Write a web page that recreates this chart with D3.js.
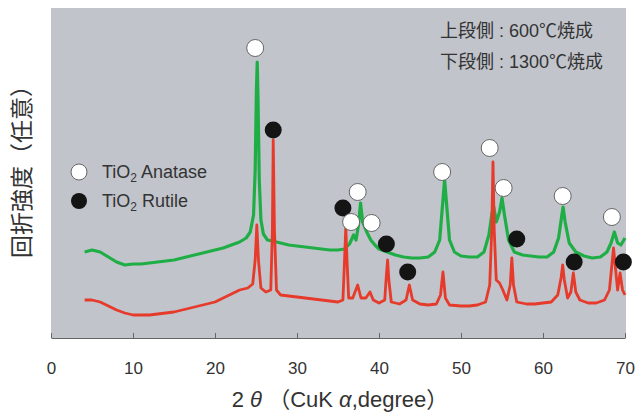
<!DOCTYPE html>
<html>
<head>
<meta charset="utf-8">
<script src="https://cdn.jsdelivr.net/npm/d3@7"></script>
<style>
  body { margin: 0; background: #fff; }
  text { font-family: "Liberation Sans", "Noto Sans CJK JP", sans-serif; fill: #333; }
</style>
</head>
<body>
<div id="chart"></div>
<script>
// 2theta (deg) and intensity (arbitrary)
var upperX = [4.1, 5, 6, 7, 8, 9, 10, 11, 12, 13, 14, 15, 16, 17, 18, 19, 20, 21, 22, 23, 23.8, 24.3, 24.7, 24.9, 25.05, 25.15, 25.25, 25.4, 25.6, 25.9, 26.4, 27, 28, 29, 30, 31, 32, 33, 34, 35, 35.8, 36.4, 36.9, 37.2, 37.5, 37.75, 38.0, 38.5, 39, 39.5, 40, 41, 42, 43, 44, 45, 46, 46.8, 47.4, 47.8, 48.0, 48.2, 48.6, 49.2, 50, 51, 52, 52.8, 53.4, 53.8, 54.0, 54.3, 54.7, 55.0, 55.3, 55.8, 56.5, 57.5, 58.5, 59.5, 60.5, 61.3, 61.9, 62.3, 62.45, 62.7, 63.2, 64, 65, 66, 67, 67.8, 68.3, 68.7, 69.1, 69.5, 70];
var upperY = [86, 88, 86, 81, 76, 73, 74, 74, 75, 76, 77, 78, 80, 82, 84, 86, 88, 90, 93, 96, 100, 106, 123, 168, 248, 276, 238, 158, 118, 104, 98, 97, 95, 93, 92, 91, 90, 89, 88, 88, 89, 94, 103, 98, 113, 135, 116, 106, 98, 93, 89, 86, 83, 81, 80, 80, 81, 86, 98, 138, 158, 138, 98, 86, 82, 81, 81, 86, 103, 126, 131, 116, 126, 140, 123, 98, 86, 83, 82, 81, 81, 86, 100, 123, 131, 116, 95, 86, 82, 80, 81, 86, 95, 106, 95, 93, 100];

var lowerX = [4.1, 5, 6, 7, 8, 9, 10, 11, 12, 13, 14, 15, 16, 17, 18, 19, 20, 21, 22, 23, 24, 24.6, 24.9, 25.1, 25.3, 25.6, 26.2, 26.8, 27.0, 27.1, 27.25, 27.5, 28, 29, 30, 31, 32, 33, 34, 35, 35.6, 35.8, 35.95, 36.1, 36.3, 36.8, 37.4, 37.8, 38.4, 38.9, 39.3, 40, 40.7, 40.9, 41.05, 41.2, 41.5, 42.5, 43.3, 43.7, 44.1, 45, 46, 47, 47.5, 47.8, 48.1, 48.6, 50, 51, 52, 53, 53.5, 53.75, 53.9, 54.05, 54.3, 54.7, 55.1, 55.6, 56.0, 56.2, 56.4, 56.8, 58, 59, 60, 61, 61.8, 62.2, 62.4, 62.6, 63.0, 63.4, 63.7, 64.0, 64.5, 65.5, 66.5, 67.5, 68.1, 68.4, 68.6, 68.8, 69.1, 69.4, 69.7, 70];
var lowerY = [38, 38, 36, 32, 28, 25, 23, 23, 23, 24, 25, 26, 28, 30, 32, 34, 36, 40, 44, 48, 50, 54, 78, 113, 78, 50, 46, 48, 108, 198, 108, 48, 43, 42, 41, 40, 39, 38, 37, 36, 38, 78, 111, 78, 40, 40, 53, 40, 40, 46, 38, 35, 38, 63, 78, 58, 36, 34, 38, 53, 38, 34, 33, 34, 43, 66, 40, 33, 32, 32, 33, 36, 53, 108, 176, 108, 58, 55, 48, 38, 53, 80, 53, 36, 34, 34, 35, 36, 43, 60, 73, 58, 40, 46, 65, 46, 38, 35, 35, 38, 48, 73, 90, 73, 48, 65, 48, 43];

// peak markers
var anataseX = [24.9, 36.6, 37.4, 39.1, 47.7, 53.5, 55.2, 62.4, 68.4];
var anataseY = [290, 116, 146, 115, 166, 190, 150, 142, 121];
var rutileX = [27.1, 35.6, 40.9, 43.5, 56.8, 63.8, 69.8];
var rutileY = [208, 130, 94, 66, 99, 76, 76];

var xTicks = [0, 10, 20, 30, 40, 50, 60, 70];

var width = 635, height = 413;
var plot = { left: 51, right: 626, top: 8, bottom: 338 };

var svg = d3.select("#chart")
    .append("svg")
        .attr("width", width)
        .attr("height", height);

var x = d3.scaleLinear()
    .domain([0, 70])
    .range([plot.left, 625]);

var y = d3.scaleLinear()
    .domain([0, 330])
    .range([plot.bottom, plot.top]);

svg.append("rect")
    .attr("x", plot.left)
    .attr("y", plot.top)
    .attr("width", plot.right - plot.left)
    .attr("height", plot.bottom - plot.top)
    .attr("fill", "#c1c4cb");

var line = d3.line()
    .x(function (d) { return x(d[0]); })
    .y(function (d) { return y(d[1]); });

var upper = d3.zip(upperX, upperY);
var lower = d3.zip(lowerX, lowerY);

svg.append("path")
    .datum(upper)
    .attr("d", line)
    .attr("fill", "none")
    .attr("stroke", "#1fae45")
    .attr("stroke-width", 3.2)
    .attr("stroke-linejoin", "round");

svg.append("path")
    .datum(lower)
    .attr("d", line)
    .attr("fill", "none")
    .attr("stroke", "#e63a2b")
    .attr("stroke-width", 2.8)
    .attr("stroke-linejoin", "round");

// axis
var xAxis = d3.axisBottom(x)
    .tickValues(xTicks)
    .tickSizeInner(-5)
    .tickSizeOuter(0)
    .tickPadding(24);

var gx = svg.append("g")
    .attr("transform", `translate(0, ${plot.bottom})`)
    .call(xAxis);

gx.select(".domain").attr("stroke", "#666");
gx.selectAll(".tick line").attr("stroke", "#666");
gx.selectAll(".tick text")
    .attr("font-size", 17)
    .attr("fill", "#333")
    .style("font-family", "'Liberation Sans', sans-serif");

// markers
svg.selectAll(".rutile")
    .data(d3.zip(rutileX, rutileY))
    .enter().append("circle")
        .attr("cx", function (d) { return x(d[0]); })
        .attr("cy", function (d) { return y(d[1]); })
        .attr("r", 8.5)
        .attr("fill", "#141414");

svg.selectAll(".anatase")
    .data(d3.zip(anataseX, anataseY))
    .enter().append("circle")
        .attr("cx", function (d) { return x(d[0]); })
        .attr("cy", function (d) { return y(d[1]); })
        .attr("r", 8.5)
        .attr("fill", "#fff")
        .attr("stroke", "#666")
        .attr("stroke-width", 1);

// legend
svg.append("circle").attr("cx", 79).attr("cy", 172).attr("r", 8)
    .attr("fill", "#fff").attr("stroke", "#666");
svg.append("circle").attr("cx", 79).attr("cy", 201).attr("r", 8)
    .attr("fill", "#141414");

var leg1 = svg.append("text").attr("x", 102).attr("y", 178).attr("font-size", 18);
leg1.append("tspan").text("TiO");
leg1.append("tspan").attr("font-size", 12).attr("dy", 4).text("2");
leg1.append("tspan").attr("dy", -4).text(" Anatase");

var leg2 = svg.append("text").attr("x", 102).attr("y", 207).attr("font-size", 18);
leg2.append("tspan").text("TiO");
leg2.append("tspan").attr("font-size", 12).attr("dy", 4).text("2");
leg2.append("tspan").attr("dy", -4).text(" Rutile");

// notes
svg.append("text").attr("x", 440).attr("y", 37).attr("font-size", 18)
    .text("上段側 : 600℃焼成");
svg.append("text").attr("x", 440).attr("y", 68).attr("font-size", 18)
    .text("下段側 : 1300℃焼成");

// axis titles
var xt = svg.append("text")
    .attr("x", 340)
    .attr("y", 407)
    .attr("text-anchor", "middle")
    .attr("font-size", 22)
    .attr("xml:space", "preserve");
xt.append("tspan").text("2 ");
xt.append("tspan").attr("font-style", "italic").text("θ");
xt.append("tspan").text(" （CuK ");
xt.append("tspan").attr("font-style", "italic").text("α");
xt.append("tspan").text(",degree）");

svg.append("text")
    .attr("transform", "translate(30, 166) rotate(-90)")
    .attr("text-anchor", "middle")
    .attr("font-size", 23)
    .text("回折強度（任意）");
</script>
</body>
</html>
